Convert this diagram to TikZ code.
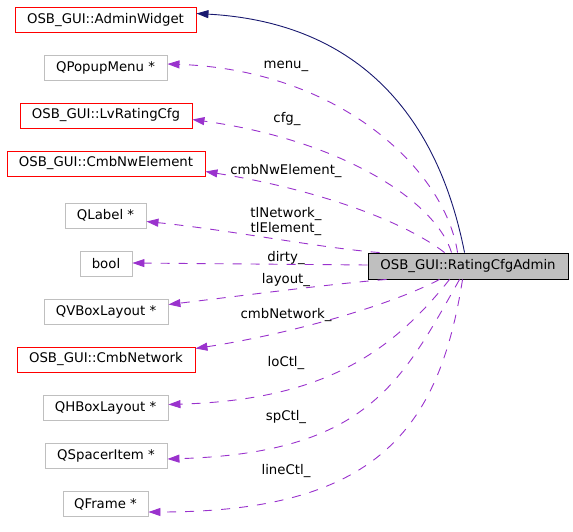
\documentclass[tikz,border=0pt]{standalone}
\usepackage{fontspec}
\setmainfont{DejaVu Sans}
\usetikzlibrary{arrows.meta}
\definecolor{orchid}{HTML}{9A32CD}
\definecolor{mblue}{HTML}{191970}
\definecolor{grey75}{HTML}{BFBFBF}
\tikzset{
  box/.style={draw, line width=0.9pt, inner sep=0pt, minimum height=25pt, font=\fontsize{13.3pt}{15pt}\selectfont},
  redbox/.style={box, draw=red},
  greybox/.style={box, draw=grey75},
  mainbox/.style={box, draw=black, fill=grey75, minimum height=26pt},
  mem/.style={draw=orchid, line width=0.9pt, dash pattern=on 9pt off 9pt, -{Triangle[length=12pt, width=8pt, fill=orchid]}},
  inh/.style={draw=mblue, line width=0.9pt, -{Triangle[length=12pt, width=8pt, fill=mblue]}},
  lbl/.style={anchor=base, inner sep=0pt, align=center, font=\fontsize{13.3pt}{14.5pt}\selectfont}
}
\begin{document}
\begin{tikzpicture}[x=1pt, y=-1pt]
\useasboundingbox (0,0) rectangle (573,532);
% nodes
\node[mainbox, minimum width=200pt] (rca) at (468,266) {OSB\_GUI::RatingCfgAdmin};
\node[redbox, minimum width=181pt] (aw) at (105.5,20) {OSB\_GUI::AdminWidget};
\node[greybox, minimum width=123pt] (pm) at (105.5,68) {QPopupMenu *};
\node[redbox, minimum width=172pt] (lv) at (106,115.5) {OSB\_GUI::LvRatingCfg};
\node[redbox, minimum width=198pt] (ne) at (106,163.5) {OSB\_GUI::CmbNwElement};
\node[greybox, minimum width=81pt] (ql) at (105.5,215.5) {QLabel *};
\node[greybox, minimum width=52pt] (bo) at (106,263.5) {bool};
\node[greybox, minimum width=124pt] (vb) at (106,311.5) {QVBoxLayout *};
\node[redbox, minimum width=178pt] (cn) at (106,359.5) {OSB\_GUI::CmbNetwork};
\node[greybox, minimum width=125pt] (hb) at (105.5,407.5) {QHBoxLayout *};
\node[greybox, minimum width=122pt] (sp) at (106,456) {QSpacerItem *};
\node[greybox, minimum width=85pt] (fr) at (105.5,504) {QFrame *};
% inheritance
\draw[inh] ([xshift=97pt]rca.north west) .. controls (450,180) and (405,25) .. ([yshift=6.5pt]aw.east);
% members
\draw[mem] ([xshift=90pt]rca.north west) .. controls (445,170) and (340,70) .. ([yshift=4pt]pm.east);
\draw[mem] ([xshift=84pt]rca.north west) .. controls (435,200) and (340,140) .. ([yshift=-4pt]lv.east);
\draw[mem] ([xshift=77pt]rca.north west) .. controls (405,222) and (320,190) .. ([yshift=-8pt]ne.east);
\draw[mem] ([xshift=12pt]rca.north west) .. controls (320,248) and (230,230) .. ([yshift=-6pt]ql.east);
\draw[mem] ([yshift=1pt]rca.west) -- ([yshift=0.5pt]bo.east);
\draw[mem] ([xshift=19pt]rca.south west) .. controls (330,284) and (240,296) .. ([yshift=7pt]vb.east);
\draw[mem] ([xshift=72pt]rca.south west) .. controls (387,307) and (284,335) .. ([yshift=11pt]cn.east);
\draw[mem] ([xshift=82pt]rca.south west) .. controls (388,357) and (318,400) .. ([yshift=3pt]hb.east);
\draw[mem] ([xshift=92pt]rca.south west) .. controls (401,383) and (367,453) .. ([yshift=-3pt]sp.east);
\draw[mem] ([xshift=95pt]rca.south west) .. controls (439,428) and (378,512) .. ([yshift=-8pt]fr.east);
% labels
\node[lbl] (l1) at (286,69) {menu\_};
\node[lbl] (l2) at (287,123) {cfg\_};
\node[lbl] (l3) at (286,175) {cmbNwElement\_};
\node[lbl] (l4) at (286,232) {tlNetwork\_\\tlElement\_};
\node[lbl] (l5) at (286,261.5) {dirty\_};
\node[lbl] (l6) at (286,283) {layout\_};
\node[lbl] (l7) at (286,318) {cmbNetwork\_};
\node[lbl] (l8) at (286,366) {loCtl\_};
\node[lbl] (l9) at (286,420) {spCtl\_};
\node[lbl] (l10) at (286,474) {lineCtl\_};
\end{tikzpicture}
\end{document}
